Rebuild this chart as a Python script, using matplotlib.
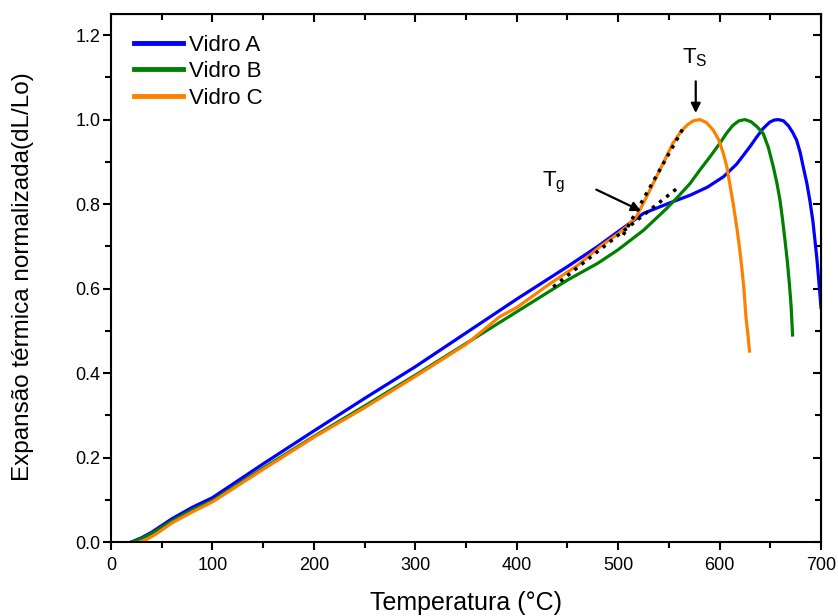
import matplotlib
matplotlib.use("Agg")
import matplotlib.pyplot as plt
from matplotlib.ticker import MultipleLocator

plt.rcParams['font.family'] = ['Liberation Sans', 'DejaVu Sans']

# Vidro A
temp_a = [20, 30, 40, 60, 80, 100, 150, 200, 250, 300, 350, 400, 450, 480, 500, 525,
          550, 571, 588, 604, 617, 630, 637, 643, 649.5, 654, 658, 663, 668, 672, 676,
          679.5, 682.5, 686, 689, 692, 694, 696, 697.5, 699, 700]
val_a = [0.0, 0.01, 0.023, 0.055, 0.082, 0.105, 0.185, 0.263, 0.34, 0.415, 0.495, 0.575,
         0.652, 0.70, 0.735, 0.778, 0.802, 0.821, 0.84, 0.865, 0.895, 0.936, 0.96,
         0.979, 0.994, 0.999, 1.0, 0.997, 0.985, 0.97, 0.951, 0.922, 0.888, 0.85,
         0.809, 0.76, 0.715, 0.67, 0.628, 0.585, 0.555]

# Vidro B
temp_b = [20, 30, 40, 60, 80, 100, 150, 200, 250, 300, 350, 400, 450, 480, 500, 525,
          548, 560, 571, 581, 590.6, 600, 607, 613, 619, 625, 631, 637, 643, 648, 653,
          656.5, 659.6, 662, 664.5, 667, 668.8, 670.5, 672]
val_b = [0.0, 0.008, 0.02, 0.05, 0.076, 0.098, 0.175, 0.25, 0.322, 0.395, 0.47, 0.545,
         0.62, 0.66, 0.692, 0.738, 0.79, 0.82, 0.849, 0.882, 0.912, 0.943, 0.968,
         0.986, 0.997, 1.0, 0.995, 0.983, 0.967, 0.935, 0.888, 0.85, 0.809, 0.765,
         0.715, 0.66, 0.612, 0.56, 0.49]

# Vidro C
temp_c = [28, 35, 45, 60, 80, 100, 150, 200, 250, 300, 350, 383, 400, 433, 460, 482,
          500, 508, 518, 528, 541, 554, 562, 568, 574, 580.7, 587, 593.8, 599, 603.7,
          607, 610, 613.5, 616.9, 619.5, 621.8, 624, 626, 628, 629.5]
val_c = [0.0, 0.006, 0.02, 0.045, 0.071, 0.095, 0.172, 0.248, 0.318, 0.392, 0.468,
         0.533, 0.555, 0.612, 0.655, 0.699, 0.73, 0.746, 0.77, 0.817, 0.88, 0.944,
         0.972, 0.987, 0.997, 1.0, 0.993, 0.975, 0.953, 0.92, 0.89, 0.849, 0.8,
         0.746, 0.7, 0.652, 0.6, 0.533, 0.49, 0.452]

# retas tangentes (pontilhadas)
tan1_t = [436, 558]
tan1_v = [0.604, 0.837]
tan2_t = [505, 564]
tan2_v = [0.727, 0.979]

fig = plt.figure(figsize=(8.38, 6.16), dpi=100)
ax = fig.add_axes([0.1325, 0.1201, 0.8472, 0.8572])

ax.plot(temp_a, val_a, color='#0000ff', lw=2.3, label='Vidro A')
ax.plot(temp_b, val_b, color='#008000', lw=2.3, label='Vidro B')
ax.plot(temp_c, val_c, color='#ff8000', lw=2.3, label='Vidro C')
ax.plot(tan1_t, tan1_v, color='black', lw=2.5, linestyle=(0, (1, 1.6)))
ax.plot(tan2_t, tan2_v, color='black', lw=2.5, linestyle=(0, (1, 1.6)))

# setas
ax.annotate('', xy=(576.5, 1.009), xytext=(576.5, 1.097),
            arrowprops=dict(arrowstyle='-|>', color='black', lw=1.6, mutation_scale=14))
ax.text(576, 1.147, r'T$_\mathregular{S}$', fontsize=16, ha='center', va='center')
ax.annotate('', xy=(525, 0.781), xytext=(476, 0.837),
            arrowprops=dict(arrowstyle='-|>', color='black', lw=1.6, mutation_scale=14))
ax.text(436, 0.852, r'T$_\mathregular{g}$', fontsize=16, ha='center', va='center')

ax.set_xlim(0, 700)
ax.set_ylim(0, 1.25)
ax.xaxis.set_major_locator(MultipleLocator(100))
ax.xaxis.set_minor_locator(MultipleLocator(50))
ax.yaxis.set_major_locator(MultipleLocator(0.2))
ax.yaxis.set_minor_locator(MultipleLocator(0.1))
ax.yaxis.set_major_formatter(plt.FormatStrFormatter('%.1f'))
ax.tick_params(which='major', direction='out', length=6, width=1.5, labelsize=13)
ax.tick_params(which='minor', direction='out', length=4, width=1.5)
ax.tick_params(axis='x', which='major', pad=5)
ax.tick_params(axis='y', which='major', pad=1.5)
for s in ax.spines.values():
    s.set_linewidth(1.5)

top = ax.secondary_xaxis('top')
top.xaxis.set_major_locator(MultipleLocator(100))
top.xaxis.set_minor_locator(MultipleLocator(50))
top.tick_params(which='both', direction='in', labeltop=False, width=1.5)
top.tick_params(which='major', length=6)
top.tick_params(which='minor', length=4)
right = ax.secondary_yaxis('right')
right.yaxis.set_major_locator(MultipleLocator(0.2))
right.yaxis.set_minor_locator(MultipleLocator(0.1))
right.tick_params(which='both', direction='in', labelright=False, width=1.5)
right.tick_params(which='major', length=6)
right.tick_params(which='minor', length=4)

ax.set_xlabel('Temperatura (°C)', fontsize=18)
ax.set_ylabel('Expansão térmica normalizada(dL/Lo)', fontsize=17.5)
ax.xaxis.set_label_coords(0.5, -0.092)
ax.yaxis.set_label_coords(-0.108, 0.502)

ax.legend(loc='upper left', frameon=False, fontsize=16, handlelength=2.2,
          handletextpad=0.3, labelspacing=0.25, borderpad=0, borderaxespad=0,
          bbox_to_anchor=(0.032, 0.961))
for h in ax.get_legend().get_lines():
    h.set_linewidth(3.5)

fig.savefig('out.png', dpi=100)
